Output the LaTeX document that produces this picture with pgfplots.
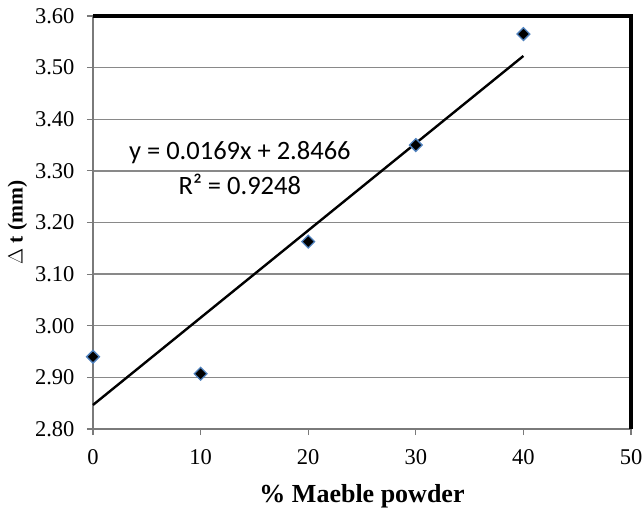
\documentclass[border=0pt]{standalone}
\usepackage{pgfplots}
\pgfplotsset{compat=1.18}
\usepackage{fontspec}
\setmainfont{Liberation Serif}
\newfontfamily\calib{Carlito}
\definecolor{gridgray}{HTML}{898989}
\definecolor{axgray}{HTML}{7A7A7A}
\definecolor{markedge}{HTML}{4F81BD}
\begin{document}
\begin{tikzpicture}
\useasboundingbox (-93pt,-83pt) rectangle (551pt,429pt);
\begin{axis}[
  scale only axis,
  width=538pt, height=413pt,
  xmin=0, xmax=50, ymin=2.80, ymax=3.60,
  xtick={0,10,20,30,40,50},
  ytick={2.8,2.9,3.0,3.1,3.2,3.3,3.4,3.5,3.6},
  yticklabel style={/pgf/number format/fixed, /pgf/number format/fixed zerofill, /pgf/number format/precision=2},
  /pgf/number format/assume math mode=true,
  axis x line=bottom, axis y line=left,
  axis line style={axgray, line width=2.5pt, -},
  tick style={axgray, line width=1.2pt},
  tick align=outside,
  major tick length=6pt,
  ymajorgrids,
  grid style={gridgray, line width=1.3pt},
  tick label style={font=\fontsize{22.5}{24}\selectfont},
  xticklabel style={yshift=-11pt},
  yticklabel style={xshift=-9pt},
  xlabel={\textbf{\% Maeble powder}},
  ylabel={\textbf{$\Delta$ t (mm)}},
  xlabel style={font=\fontsize{26}{28}\selectfont, yshift=-13pt},
  ylabel style={font=\fontsize{21.5}{24}\selectfont, yshift=1pt},
  clip=false,
]
\draw[black, line width=3.5pt] (rel axis cs:0,1) -- (rel axis cs:1,1) -- (rel axis cs:1,0);
% linear trendline
\addplot[black, line width=2.4pt, no marks] coordinates {(0,2.8466) (40,3.5226)};
% measured points
\addplot[only marks, mark=square*, mark size=4.5pt,
  mark options={rotate=45, fill=black, draw=markedge, line width=1.3pt}] coordinates {
  (0,2.940) (10,2.907) (20,3.163) (30,3.350) (40,3.565)};
\node[font=\calib\fontsize{26.5}{28}\selectfont] at (axis cs:13.65,3.335) {y = 0.0169x + 2.8466};
\node[font=\calib\fontsize{26.5}{28}\selectfont] at (axis cs:13.65,3.273) {R² = 0.9248};
\end{axis}
\end{tikzpicture}
\end{document}
